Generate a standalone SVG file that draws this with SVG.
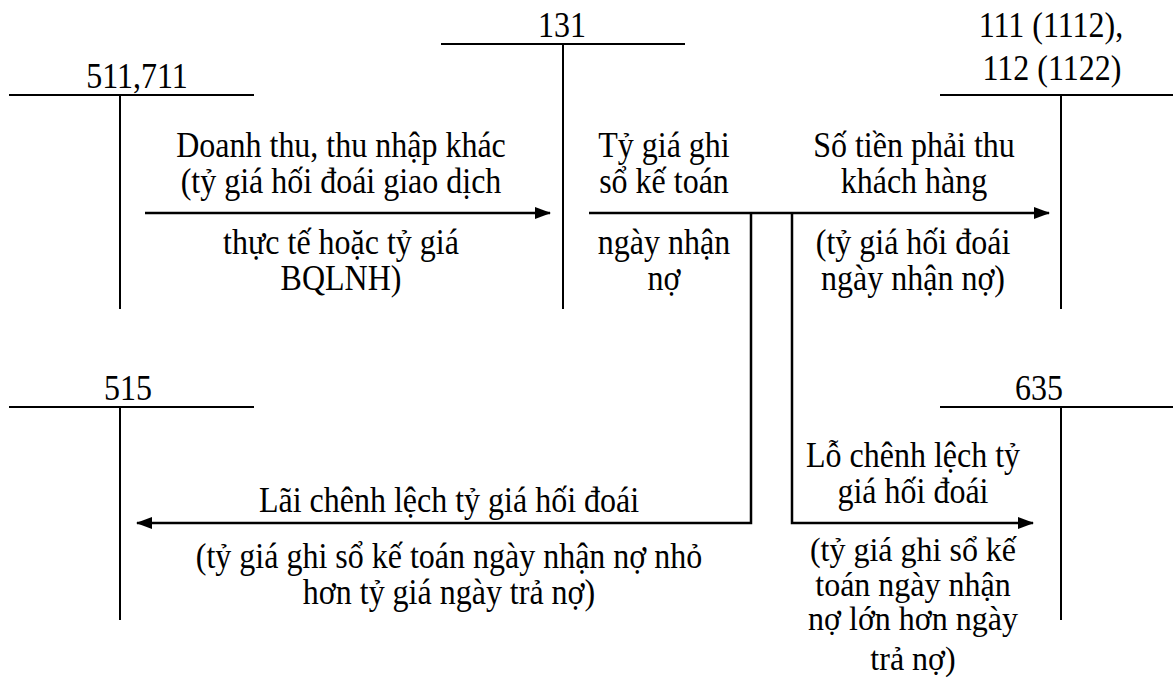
<svg xmlns="http://www.w3.org/2000/svg" width="1173" height="678" viewBox="0 0 1173 678">
  <style>
    .t { font-family: "Liberation Serif", "Times New Roman", serif; font-size: 32px; fill: #000; text-anchor: middle; }
    .acct { stroke: #000; stroke-width: 2; fill: none; }
    .flow { stroke: #000; stroke-width: 2.5; fill: none; }
  </style>
  <defs>
    <marker id="head" viewBox="0 0 16 12" refX="15" refY="6" markerWidth="16" markerHeight="12" markerUnits="userSpaceOnUse" orient="auto">
      <path d="M0,0 L16,6 L0,12 Z" fill="#000"/>
    </marker>
  </defs>
  <rect width="1173" height="678" fill="#fff"/>

  <!-- T-accounts; labels are set slightly tall (scale 1 x 1.1) -->
  <g id="acct-511-711">
    <line class="acct" x1="9" y1="95" x2="254" y2="95"/>
    <line class="acct" x1="120" y1="95" x2="120" y2="309"/>
    <g transform="translate(137,88) scale(1,1.1)"><text class="t">511,711</text></g>
  </g>
  <g id="acct-131">
    <line class="acct" x1="441" y1="44" x2="685" y2="44"/>
    <line class="acct" x1="563" y1="44" x2="563" y2="309"/>
    <g transform="translate(562,37) scale(1,1.1)"><text class="t">131</text></g>
  </g>
  <g id="acct-111-112">
    <line class="acct" x1="940" y1="95" x2="1173" y2="95"/>
    <line class="acct" x1="1061" y1="95" x2="1061" y2="309"/>
    <g transform="translate(1051,37) scale(1,1.1)"><text class="t">111 (1112),</text></g>
    <g transform="translate(1052,80) scale(1,1.1)"><text class="t">112 (1122)</text></g>
  </g>
  <g id="acct-515">
    <line class="acct" x1="9" y1="407" x2="254" y2="407"/>
    <line class="acct" x1="120" y1="407" x2="120" y2="620"/>
    <g transform="translate(128,400) scale(1,1.1)"><text class="t">515</text></g>
  </g>
  <g id="acct-635">
    <line class="acct" x1="940" y1="407" x2="1173" y2="407"/>
    <line class="acct" x1="1061" y1="407" x2="1061" y2="620"/>
    <g transform="translate(1039,400) scale(1,1.1)"><text class="t">635</text></g>
  </g>

  <!-- Entries between accounts -->
  <g id="connectors">
    <line class="flow" x1="145" y1="213" x2="550" y2="213" marker-end="url(#head)"/>
    <line class="flow" x1="589" y1="213" x2="1049" y2="213" marker-end="url(#head)"/>
    <polyline class="flow" points="751,213 751,523 137,523" marker-end="url(#head)"/>
    <polyline class="flow" points="792,213 792,523 1033,523" marker-end="url(#head)"/>
  </g>

  <!-- Entry labels -->
  <g id="label-revenue">
    <g transform="translate(341,157) scale(1,1.1)"><text class="t">Doanh thu, thu nhập khác</text></g>
    <g transform="translate(341,193) scale(1,1.1)"><text class="t">(tỷ giá hối đoái giao dịch</text></g>
    <g transform="translate(341,254) scale(1,1.1)"><text class="t">thực tế hoặc tỷ giá</text></g>
    <g transform="translate(341,290) scale(1,1.1)"><text class="t">BQLNH)</text></g>
  </g>
  <g id="label-book-rate">
    <g transform="translate(664,157) scale(1,1.1)"><text class="t">Tỷ giá ghi</text></g>
    <g transform="translate(664,193) scale(1,1.1)"><text class="t">sổ kế toán</text></g>
    <g transform="translate(664,254) scale(1,1.1)"><text class="t">ngày nhận</text></g>
    <g transform="translate(664,290) scale(1,1.1)"><text class="t">nợ</text></g>
  </g>
  <g id="label-collected">
    <g transform="translate(914,157) scale(1,1.1)"><text class="t">Số tiền phải thu</text></g>
    <g transform="translate(914,193) scale(1,1.1)"><text class="t">khách hàng</text></g>
    <g transform="translate(913,254) scale(1,1.1)"><text class="t">(tỷ giá hối đoái</text></g>
    <g transform="translate(913,290) scale(1,1.1)"><text class="t">ngày nhận nợ)</text></g>
  </g>
  <g id="label-gain">
    <g transform="translate(449,512) scale(1,1.1)"><text class="t">Lãi chênh lệch tỷ giá hối đoái</text></g>
    <g transform="translate(449,568) scale(1,1.1)"><text class="t">(tỷ giá ghi sổ kế toán ngày nhận nợ nhỏ</text></g>
    <g transform="translate(449,604) scale(1,1.1)"><text class="t">hơn tỷ giá ngày trả nợ)</text></g>
  </g>
  <g id="label-loss">
    <g transform="translate(913,467) scale(1,1.1)"><text class="t">Lỗ chênh lệch tỷ</text></g>
    <g transform="translate(913,503) scale(1,1.1)"><text class="t">giá hối đoái</text></g>
    <g transform="translate(913,561) scale(1,1.05)"><text class="t">(tỷ giá ghi sổ kế</text></g>
    <g transform="translate(913,596) scale(1,1.05)"><text class="t">toán ngày nhận</text></g>
    <g transform="translate(913,630) scale(1,1.05)"><text class="t">nợ lớn hơn ngày</text></g>
    <g transform="translate(913,670) scale(1,1.05)"><text class="t">trả nợ)</text></g>
  </g>
</svg>
